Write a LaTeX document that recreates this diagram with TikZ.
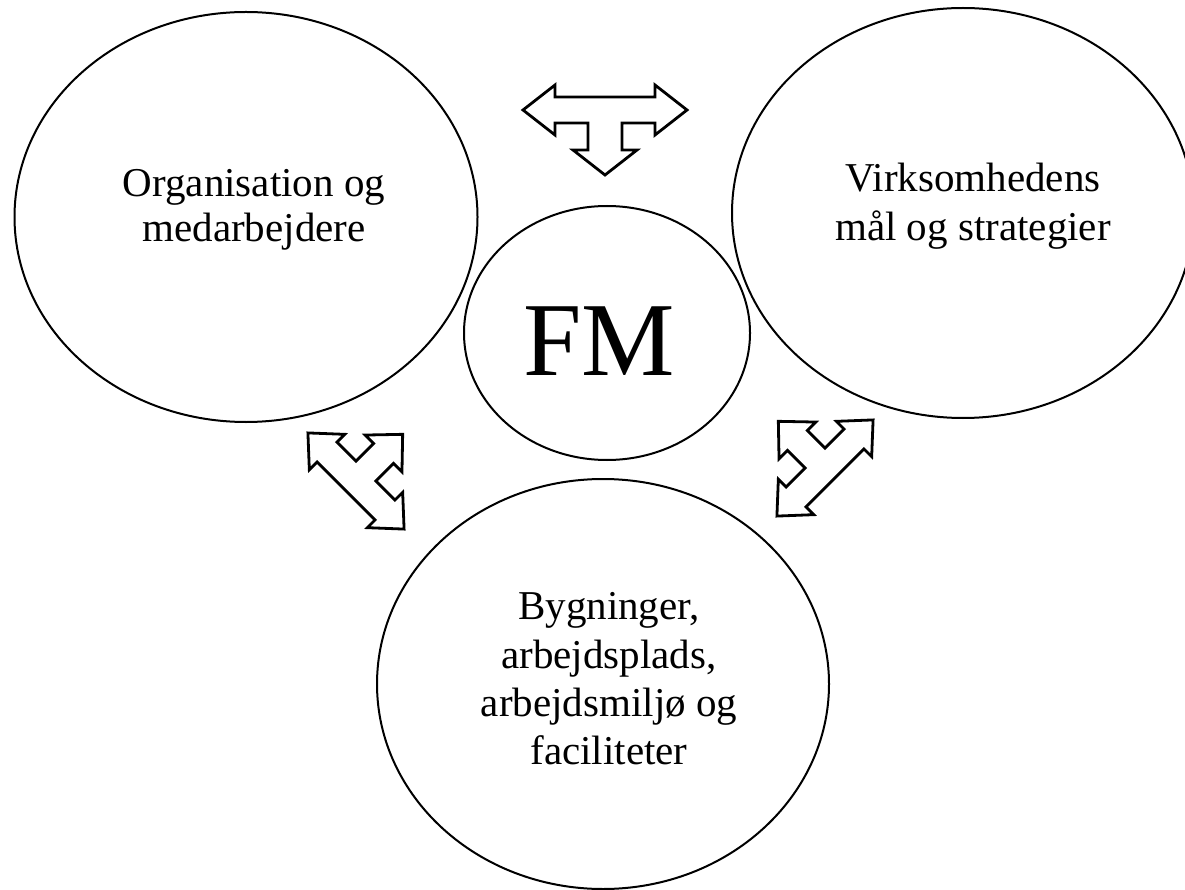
\documentclass[tikz,border=0pt]{standalone}
\usepackage{fontspec}
\setmainfont{Liberation Serif}
\usetikzlibrary{shapes.geometric}
\tikzset{
  bubble/.style={ellipse, draw=black, line width=2pt, inner sep=0pt},
  lbl/.style={align=center, inner sep=0pt},
  arrowline/.style={draw=black, line width=2.8pt, line join=miter, fill=white},
  pics/tarrow/.style n args={8}{code={
    \draw[arrowline] (-#1,0) -- (-#1+#3,#4) -- (-#1+#3,#2) -- (#1-#3,#2) -- (#1-#3,#4) -- (#1,0)
      -- (#1-#3,-#4) -- (#1-#3,-#2) -- (#5,-#2) -- (#5,-#2-#6) -- (#7,-#2-#6) -- (0,-#2-#6-#8)
      -- (-#7,-#2-#6) -- (-#5,-#2-#6) -- (-#5,-#2) -- (-#1+#3,-#2) -- (-#1+#3,-#4) -- cycle;
  }}
}
\begin{document}
\begin{tikzpicture}[x=1pt,y=1pt]
\fill[white] (0,0) rectangle (1185,-890);
\useasboundingbox (0,0) rectangle (1185,-890);
\begin{scope}
\clip (0,0) rectangle (1185,-890);
\node[bubble, minimum width=463pt, minimum height=410pt] (org) at (246,-217) {};
\node[bubble, minimum width=462pt, minimum height=410pt] (goal) at (963,-213) {};
\node[bubble, minimum width=286pt, minimum height=254pt] (fm) at (607,-333) {};
\node[bubble, minimum width=452pt, minimum height=410pt] (bld) at (603,-684) {};
\end{scope}

\node[lbl, font=\fontsize{41}{45}\selectfont] (orgtext) at (254,-210) {Organisation og\\medarbejdere};
\node[lbl, font=\fontsize{41}{49}\selectfont] (goaltext) at (973,-206) {Virksomhedens\\mål og strategier};
\node[lbl, font=\fontsize{41}{48.3}\selectfont] (bldtext) at (609,-679) {Bygninger,\\arbejdsplads,\\arbejdsmiljø og\\faciliteter};
\node[font=\fontsize{105}{120}\selectfont, inner sep=0pt, anchor=base] (fmtext) at (599,-375) {FM};

\pic at (605,-110) {tarrow={82}{13}{32}{25}{17}{27}{32}{25}};
\pic[rotate=135] at (356,-481) {tarrow={68}{14}{27}{25}{14}{25}{26}{27}};
\pic[rotate=225] at (825,-468) {tarrow={68}{14}{27}{25}{14}{25}{26}{27}};
\end{tikzpicture}
\end{document}
